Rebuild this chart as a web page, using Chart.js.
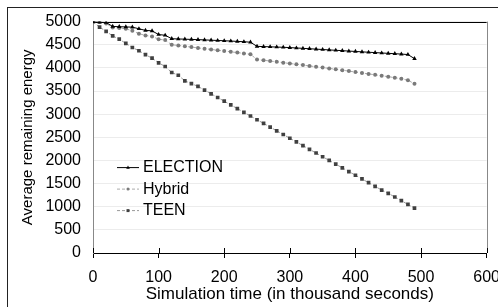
<!DOCTYPE html>
<html>
<head>
<meta charset="utf-8">
<script src="https://cdn.jsdelivr.net/npm/chart.js@4"></script>
<style>
  html, body { margin: 0; padding: 0; background: #fff; overflow: hidden; }
  #frame { position: absolute; left: 7px; top: 7px; width: 600px; height: 400px; border: 1px solid #222; }
  #wrap { position: absolute; left: 0; top: 0; width: 510px; height: 307px; }
</style>
</head>
<body>
<div id="frame"></div>
<div id="wrap"><canvas id="chart"></canvas></div>
<script>
// simulation time (thousand seconds)
const times = [0, 10, 20, 30, 40, 50, 60, 70, 80, 90,
  100, 110, 120, 130, 140, 150, 160, 170, 180, 190,
  200, 210, 220, 230, 240, 250, 260, 270, 280, 290,
  300, 310, 320, 330, 340, 350, 360, 370, 380, 390,
  400, 410, 420, 430, 440, 450, 460, 470, 480, 490];

const election = [5000, 4985, 4980, 4895, 4890, 4885, 4880, 4845, 4810, 4800,
  4720, 4705, 4630, 4625, 4620, 4615, 4610, 4605, 4598, 4592,
  4586, 4580, 4572, 4565, 4555, 4465, 4460, 4455, 4450, 4445,
  4438, 4430, 4422, 4414, 4405, 4397, 4388, 4380, 4372, 4363,
  4355, 4346, 4338, 4330, 4322, 4314, 4306, 4298, 4288, 4200];

const hybrid = [5000, 4990, 4960, 4870, 4860, 4845, 4800, 4740, 4700, 4680,
  4620, 4600, 4500, 4483, 4466, 4449, 4432, 4415, 4398, 4381,
  4364, 4347, 4330, 4313, 4295, 4180, 4165, 4148, 4130, 4112,
  4095, 4078, 4060, 4042, 4024, 4006, 3988, 3970, 3950, 3930,
  3910, 3890, 3870, 3850, 3830, 3810, 3788, 3765, 3735, 3655];

const teen = [5000, 4880, 4790, 4690, 4620, 4530, 4440, 4370, 4285, 4210,
  4110, 4030, 3900, 3840, 3720, 3660, 3600, 3520, 3440, 3360,
  3280, 3200, 3120, 3040, 2960, 2880, 2800, 2720, 2640, 2560,
  2480, 2400, 2320, 2240, 2160, 2080, 2000, 1920, 1840, 1760,
  1680, 1600, 1520, 1440, 1360, 1290, 1210, 1130, 1050, 970];

const seriesNames = ['ELECTION', 'Hybrid', 'TEEN'];

const FONT = 'Liberation Sans, Arial, Helvetica, sans-serif';

const toPoints = vals => vals.map((v, i) => ({ x: times[i], y: v }));

// plot border, crossing ticks and the legend inside the plot
const extras = {
  id: 'extras',
  beforeDatasetsDraw(chart) {
    const { ctx, chartArea: a, scales: { x } } = chart;
    ctx.save();
    ctx.lineWidth = 1;
    ctx.strokeStyle = '#000';
    ctx.beginPath();
    ctx.moveTo(a.left, Math.round(a.top) + 0.5);
    ctx.lineTo(a.right, Math.round(a.top) + 0.5);
    ctx.stroke();
    ctx.strokeStyle = '#888';
    ctx.beginPath();
    ctx.moveTo(Math.round(a.right) + 0.5, a.top);
    ctx.lineTo(Math.round(a.right) + 0.5, a.bottom);
    ctx.stroke();
    ctx.strokeStyle = '#000';
    x.ticks.forEach(t => {
      const px = Math.round(x.getPixelForValue(t.value)) + 0.5;
      ctx.beginPath();
      ctx.moveTo(px, a.bottom - 5);
      ctx.lineTo(px, a.bottom);
      ctx.stroke();
    });
    ctx.restore();
  },
  afterDraw(chart) {
    const { ctx, chartArea: a } = chart;
    ctx.save();
    chart.data.datasets.forEach((ds, i) => {
      const y = a.top + 146 + i * 21.5;
      const x0 = a.left + 24;
      ctx.strokeStyle = ds.borderColor;
      ctx.lineWidth = 1;
      ctx.setLineDash(ds.borderDash || []);
      ctx.beginPath();
      ctx.moveTo(x0, y);
      ctx.lineTo(x0 + 22, y);
      ctx.stroke();
      ctx.setLineDash([]);
      ctx.fillStyle = ds.pointBackgroundColor;
      ctx.strokeStyle = ds.pointBorderColor;
      Chart.helpers.drawPoint(ctx, { pointStyle: ds.pointStyle, radius: ds.pointRadius - 0.5, rotation: 0, borderWidth: 0 }, x0 + 11, y);
      ctx.fillStyle = '#000';
      ctx.font = '16px ' + FONT;
      ctx.textBaseline = 'middle';
      ctx.textAlign = 'left';
      ctx.fillText(ds.label, x0 + 26, y);
    });
    ctx.restore();
  }
};

new Chart(document.getElementById('chart'), {
  type: 'line',
  data: {
    datasets: [
      {
        label: seriesNames[0],
        data: toPoints(election),
        borderColor: '#000',
        borderWidth: 1,
        pointStyle: 'triangle',
        pointRadius: 2.6,
        pointBackgroundColor: '#000',
        pointBorderColor: '#000',
        pointBorderWidth: 0
      },
      {
        label: seriesNames[1],
        data: toPoints(hybrid),
        borderColor: '#aaa',
        borderWidth: 1,
        borderDash: [3, 2],
        pointStyle: 'circle',
        pointRadius: 2,
        pointBackgroundColor: '#7a7a7a',
        pointBorderColor: '#7a7a7a',
        pointBorderWidth: 0
      },
      {
        label: seriesNames[2],
        data: toPoints(teen),
        borderColor: '#999',
        borderWidth: 1,
        borderDash: [3, 2],
        pointStyle: 'rect',
        pointRadius: 2.6,
        pointBackgroundColor: '#404040',
        pointBorderColor: '#404040',
        pointBorderWidth: 0
      }
    ]
  },
  options: {
    responsive: true,
    maintainAspectRatio: false,
    animation: false,
    layout: { padding: { top: 21, right: 0, bottom: 0, left: 0 } },
    plugins: {
      legend: { display: false },
      tooltip: { enabled: false }
    },
    scales: {
      x: {
        type: 'linear',
        min: 0,
        max: 600,
        ticks: {
          stepSize: 100,
          color: '#000',
          padding: 10,
          font: { family: FONT, size: 16 },
          callback: v => String(v)
        },
        grid: {
          drawOnChartArea: false,
          drawTicks: true,
          tickLength: 5,
          tickColor: '#000'
        },
        border: { color: '#000', width: 1 },
        title: {
          display: true,
          text: 'Simulation time (in thousand seconds)',
          color: '#000',
          font: { family: FONT, size: 17 },
          padding: { top: 0, bottom: 2 }
        },
        afterFit(scale) { scale.height = 54; }
      },
      y: {
        min: 0,
        max: 5000,
        ticks: {
          stepSize: 500,
          color: '#000',
          padding: 12,
          font: { family: FONT, size: 16 },
          callback: v => String(v)
        },
        grid: {
          color: '#ececec',
          drawTicks: false
        },
        border: { color: '#888', width: 1 },
        title: {
          display: true,
          text: 'Average remaining energy',
          color: '#000',
          font: { family: FONT, size: 15 },
          padding: { top: 19, bottom: 0 }
        },
        afterFit(scale) { scale.width = 93; }
      }
    }
  },
  plugins: [extras]
});
</script>
</body>
</html>
